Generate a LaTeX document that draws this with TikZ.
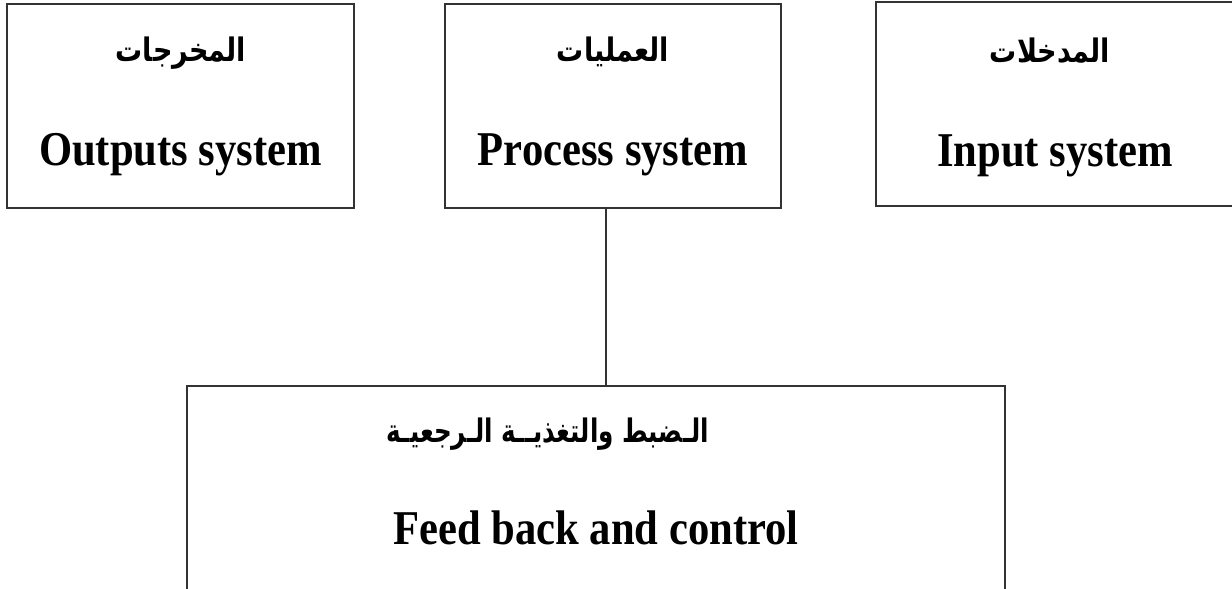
\documentclass[tikz,border=0pt]{standalone}
\usepackage{graphicx}
\usepackage{fontspec}
\setmainfont{Liberation Serif}
\newfontfamily\arabicfont[Script=Arabic]{DejaVu Sans}
\TeXXeTstate=1
\newcommand{\entitle}[1]{\scalebox{1}[1.14]{#1}}
\newcommand{\artitle}[2]{\scalebox{#1}[1.08]{#2}}
\tikzset{
  sysbox/.style={draw=black!80, line width=1.4pt, minimum width=#1, minimum height=204pt, inner sep=0pt},
  entext/.style={anchor=base, font=\fontsize{42.6}{46}\selectfont\bfseries},
  artext/.style={anchor=base, font=\arabicfont\fontsize{30}{34}\selectfont\bfseries},
}

\begin{document}
\begin{tikzpicture}[x=1pt,y=1pt]
\useasboundingbox (0,0) rectangle (1232,-589);
% SYSTEM BOXES
\node [sysbox=347pt] (outputs) at (180.5,-106) {};
\node [sysbox=336pt] (process) at (613,-106) {};
\node [sysbox=358pt] (input) at (1055,-104) {};
\node [sysbox=818pt, minimum height=230pt] (feedback) at (596,-501) {};
% ARABIC TITLES
\node [artext] (outputsar) at (181,-61) {\artitle{0.9}{\beginR المخرجات\endR}};
\node [artext] (processar) at (613,-61) {\artitle{0.9}{\beginR العمليات\endR}};
\node [artext] (inputar) at (1050,-62) {\artitle{0.9}{\beginR المدخلات\endR}};
\node [artext] (feedbackar) at (548,-442) {\artitle{0.82}{\beginR الـضبط والتغذيــة الـرجعيـة\endR}};
% ENGLISH TITLES
\node [entext] (outputsen) at (180.5,-165) {\entitle{Outputs system}};
\node [entext] (processen) at (613,-165) {\entitle{Process system}};
\node [entext] (inputen) at (1055,-166) {\entitle{Input system}};
\node [entext] (feedbacken) at (596,-544) {\entitle{Feed back and control}};
% LINK PROCESS TO FEEDBACK
\draw [draw=black!80, line width=1.4pt] ([xshift=-7pt]process.south) -- ([xshift=-7pt]process.south |- feedback.north);
\end{tikzpicture}
\end{document}
